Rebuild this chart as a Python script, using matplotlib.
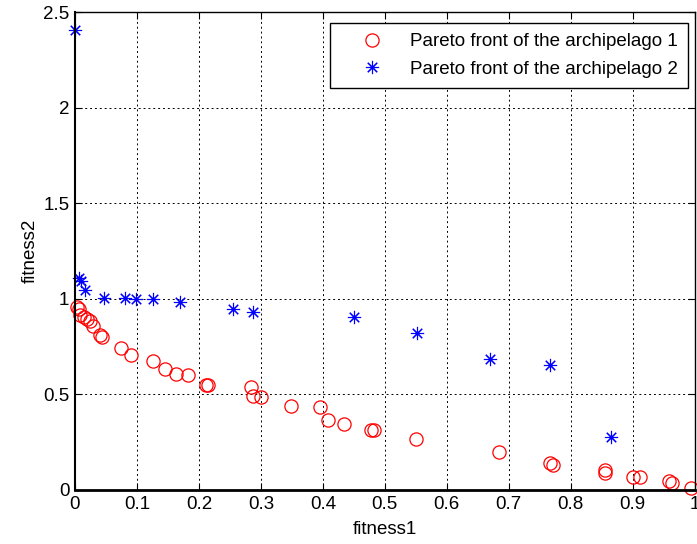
import matplotlib
matplotlib.use("Agg")
import matplotlib.pyplot as plt

plt.rcParams['font.family'] = ['Liberation Sans', 'DejaVu Sans']

# Pareto front of archipelago 1 (red circles)
f1_a1 = [0.003, 0.007, 0.0085, 0.015, 0.020, 0.0235, 0.029, 0.040, 0.044, 0.075,
         0.091, 0.126, 0.145, 0.163, 0.183, 0.212, 0.215, 0.284, 0.288, 0.300,
         0.349, 0.395, 0.409, 0.434, 0.477, 0.482, 0.551, 0.685, 0.767, 0.771,
         0.856, 0.856, 0.901, 0.912, 0.958, 0.963, 0.994]
f2_a1 = [0.957, 0.949, 0.916, 0.904, 0.894, 0.886, 0.859, 0.811, 0.803, 0.742,
         0.707, 0.677, 0.632, 0.607, 0.600, 0.548, 0.548, 0.541, 0.494, 0.488,
         0.438, 0.433, 0.368, 0.346, 0.316, 0.316, 0.269, 0.201, 0.141, 0.133,
         0.105, 0.087, 0.070, 0.070, 0.049, 0.035, 0.012]

# Pareto front of archipelago 2 (blue asterisks)
f1_a2 = [0.0, 0.0069, 0.0096, 0.0155, 0.046, 0.080, 0.099, 0.126, 0.170, 0.255,
         0.288, 0.451, 0.552, 0.669, 0.767, 0.865]
f2_a2 = [2.41, 1.11, 1.096, 1.045, 1.005, 1.007, 1.0, 1.0, 0.983, 0.946,
         0.932, 0.907, 0.824, 0.684, 0.653, 0.277]

xticks = [0, 0.1, 0.2, 0.3, 0.4, 0.5, 0.6, 0.7, 0.8, 0.9, 1]
xticklabels = ['0', '0.1', '0.2', '0.3', '0.4', '0.5', '0.6', '0.7', '0.8', '0.9', '1']
yticks = [0, 0.5, 1, 1.5, 2, 2.5]
yticklabels = ['0', '0.5', '1', '1.5', '2', '2.5']

FS = 13.5

fig = plt.figure(figsize=(6.97, 5.44), dpi=100)
ax = fig.add_axes([0.1076, 0.0993, 0.889, 0.878])

ax.plot(f1_a1, f2_a1, linestyle='none', marker='o', markersize=9.5,
        markerfacecolor='none', markeredgecolor='red', markeredgewidth=0.9,
        label='Pareto front of the archipelago 1', clip_on=False)
ax.plot(f1_a2, f2_a2, linestyle='none', marker=(8, 2, 0), markersize=9.5,
        color='blue', markeredgewidth=0.8,
        label='Pareto front of the archipelago 2', clip_on=False)

ax.set_xlim(0, 1)
ax.set_ylim(0, 2.5)
ax.set_xticks(xticks)
ax.set_xticklabels(xticklabels)
ax.set_yticks(yticks)
ax.set_yticklabels(yticklabels)
ax.tick_params(direction='in', top=True, right=True, labelsize=FS, length=5, width=0.8, pad=4)
ax.grid(True, color='black', linestyle=(0, (2, 3)), linewidth=0.7)
for s in ax.spines.values():
    s.set_linewidth(1.0)
ax.spines['bottom'].set_linewidth(2.0)
ax.spines['left'].set_linewidth(1.5)

ax.set_xlabel('fitness1', fontsize=FS, labelpad=6)
ax.set_ylabel('fitness2', fontsize=FS, labelpad=3)

leg = ax.legend(loc='upper right', fontsize=FS, fancybox=False, edgecolor='black',
                framealpha=1, borderpad=0.55, labelspacing=0.55, handletextpad=0.35,
                handlelength=3.4, bbox_to_anchor=(0.990, 0.978), borderaxespad=0)
leg.get_frame().set_linewidth(1.0)

fig.savefig('out.png', dpi=100)
